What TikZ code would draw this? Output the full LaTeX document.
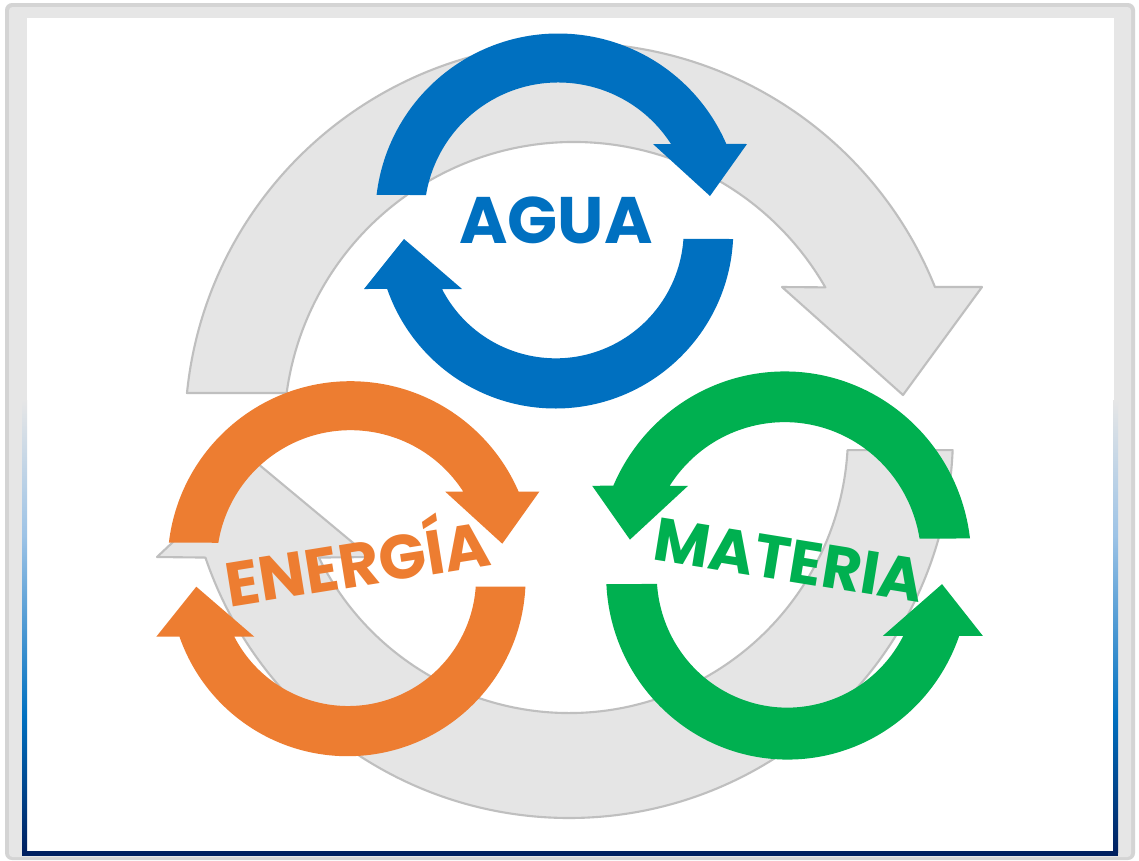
\documentclass[tikz,border=0pt]{standalone}
\usepackage{xcolor}
\usepackage{fontspec}
\usepackage{tikz}
\usetikzlibrary{calc}
\newfontfamily\swirlfont{Poppins}
\definecolor{aguablue}{HTML}{0070C0}
\definecolor{energiaorange}{HTML}{ED7D31}
\definecolor{materiagreen}{HTML}{00B050}
\definecolor{ringfill}{HTML}{E5E5E5}
\definecolor{ringline}{HTML}{BFBFBF}
\definecolor{frameband}{HTML}{E6E6E6}
\definecolor{frameshade}{HTML}{D4D4D4}
\definecolor{paleblue}{HTML}{9DC3E6}
\definecolor{navyblue}{HTML}{002060}
\pgfdeclareverticalshading{stripfade}{100bp}{color(0bp)=(navyblue); color(25bp)=(navyblue); color(40bp)=(aguablue); color(60bp)=(paleblue); color(75bp)=(frameband); color(100bp)=(frameband)}

\begin{document}
\begin{tikzpicture}[x=0.01cm,y=-0.01cm,
	ringarrow/.style={fill=ringfill,draw=ringline,line width=0.6pt,line join=round},
	swirltext/.style={anchor=base,font=\swirlfont\bfseries\fontsize{18.7}{20}\selectfont},
	pics/swirl/.style={code={
		\fill ([shift={(186.8:183)}]2.3,-4.5) arc[start angle=186.8,end angle=336.6,radius=183] -- (191,-77) -- (154,-25) -- (97,-77) -- (115,-77) arc[start angle=327.25,end angle=189.2,radius=134] -- cycle;
		\fill ([shift={(2.74:178)}]-0.7,9.5) arc[start angle=2.74,end angle=160.83,radius=178] -- (-192,68) -- (-152,18) -- (-94,68) -- (-114,68) arc[start angle=152.7,end angle=3.81,radius=128] -- cycle;
	}}]
		\fill[white] (0,0) rectangle (1139,860);
		\fill[frameshade,rounded corners=2pt] (5,3) rectangle (1135,860);
		\fill[frameband,rounded corners=1pt] (9,7) rectangle (1131,857);
		\fill[white] (27,18) rectangle (1114,852);
		\shade[shading=stripfade] (22,400) rectangle (27,852);
		\shade[shading=stripfade] (1113,400) rectangle (1118,852);
		\fill[navyblue] (22,851) rectangle (1118,856);
		\draw[ringarrow] ([shift={(185.75:389)}]574,432) arc[start angle=185.75,end angle=338.12,radius=389] -- (982,287) -- (903,395) -- (782,287) -- ([shift={(330.08:290)}]574,432) arc[start angle=330.08,end angle=187.74,radius=290] -- cycle;
		\draw[ringarrow] ([shift={(2.4:384)}]569,434) arc[start angle=2.4,end angle=161.23,radius=384] -- (157,557) -- (257,463) -- (370,557) -- ([shift={(153.71:279)}]569,434) arc[start angle=153.71,end angle=3.32,radius=279] -- cycle;
		\pic[color=aguablue] at (556,221) {swirl};
		\pic[color=energiaorange] at (348.3,568.7) {swirl};
		\pic[color=materiagreen,xscale=-1.02,yscale=1.035] at (787,565.5) {swirl};
		\node[swirltext,text=aguablue] (agua) at (556,243) {AGUA};
		\node[swirltext,text=energiaorange,rotate=9.1,font=\swirlfont\bfseries\fontsize{17.7}{19}\selectfont] (energia) at (361,586) {ENERGÍA};
		\node[swirltext,text=materiagreen,rotate=-9.2,font=\swirlfont\bfseries\fontsize{17.3}{19}\selectfont] (materia) at (786,581) {MATERIA};
	\end{tikzpicture}
\end{document}
